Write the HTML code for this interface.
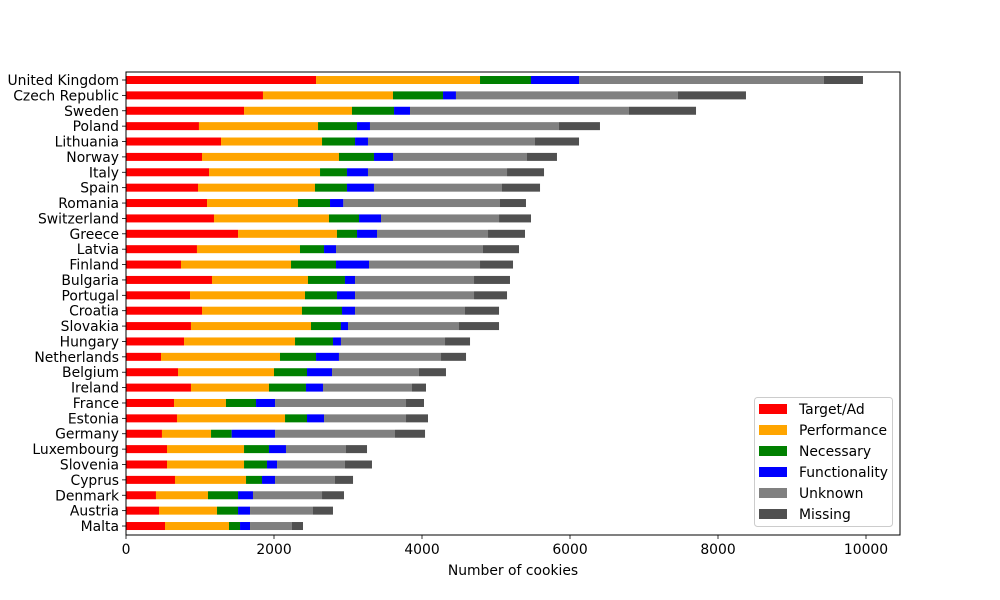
<!DOCTYPE html>
<html><head><meta charset="utf-8"><style>
html,body{margin:0;padding:0;background:#fff;}
svg{display:block;font-family:"DejaVu Sans","Liberation Sans",sans-serif;}
</style></head><body>
<svg id="chart" width="1000" height="600" viewBox="0 0 1000 600"></svg>
<script>
const categories = ["United Kingdom","Czech Republic","Sweden","Poland","Lithuania","Norway","Italy","Spain","Romania","Switzerland","Greece","Latvia","Finland","Bulgaria","Portugal","Croatia","Slovakia","Hungary","Netherlands","Belgium","Ireland","France","Estonia","Germany","Luxembourg","Slovenia","Cyprus","Denmark","Austria","Malta"];
const targetAd = [2568,1851,1595,986,1284,1027,1122,973,1095,1189,1514,959,743,1162,865,1027,878,784,473,703,878,649,689,486,554,554,662,405,446,527];
const performance = [2216,1757,1459,1609,1365,1851,1500,1581,1229,1554,1337,1392,1487,1297,1554,1351,1622,1500,1608,1297,1054,702,1460,663,1041,1041,960,703,784,865];
const necessary = [689,676,568,527,446,473,364,432,433,406,271,325,608,500,432,541,405,513,487,446,500,406,297,279,337,310,216,406,284,149];
const functionality = [649,175,216,175,175,257,284,365,180,297,270,162,446,136,244,176,95,108,310,338,230,257,230,586,230,136,176,202,162,135];
const unknown = [3310,3000,2959,2554,2257,1811,1879,1730,2117,1595,1500,1986,1500,1608,1608,1486,1500,1406,1379,1175,1203,1770,1108,1621,811,918,810,933,851,567];
const missing = [527,919,906,554,595,405,500,514,351,432,500,487,446,486,446,460,541,338,338,365,189,243,297,406,284,365,244,297,270,149];
const seriesNames = ["Target/Ad","Performance","Necessary","Functionality","Unknown","Missing"];
const xTicks = [0,2000,4000,6000,8000,10000];

const colors = ["#ff0000","#ffa500","#008000","#0000ff","#808080","#505050"];
const series = [targetAd,performance,necessary,functionality,unknown,missing];
const NS = "http://www.w3.org/2000/svg";
const svg = document.getElementById("chart");
const L=126, R=900, T=72, B=535;
const FS = "13.9";
const xScale = v => L + v*0.074;
const yScale = i => 80 + i*15.38;
const barH = 8;
function mk(tag, attrs, parent){const e=document.createElementNS(NS,tag);for(const k in attrs)e.setAttribute(k,attrs[k]);(parent||svg).appendChild(e);return e;}

const barsG = mk("g",{});


categories.forEach((c,i)=>{
  let acc=0;
  series.forEach((s,j)=>{
    const r = mk("rect",{x:xScale(acc),y:yScale(i)-barH/2,width:xScale(acc+s[i])-xScale(acc),height:barH,fill:colors[j]},barsG);
    
    
    acc+=s[i];
  });
  const tk = mk("line",{x1:L-4,x2:L,y1:yScale(i),y2:yScale(i),stroke:"#000","stroke-width":0.8});
  
  
  const t = mk("text",{x:L-7,y:yScale(i)+5,"text-anchor":"end","font-size":FS,fill:"#000"});
  t.textContent=c;
  
  
});
const frame = mk("rect",{x:L,y:T,width:R-L,height:B-T,fill:"none",stroke:"#000","stroke-width":1});


xTicks.forEach(v=>{
  const tk = mk("line",{x1:xScale(v),x2:xScale(v),y1:B,y2:B+4,stroke:"#000","stroke-width":0.8});
  
  
  const t = mk("text",{x:xScale(v),y:B+19,"text-anchor":"middle","font-size":FS,fill:"#000"});
  t.textContent=v;
  
  
});
const xl = mk("text",{x:(L+R)/2,y:575,"text-anchor":"middle","font-size":FS,fill:"#000"});
xl.textContent="Number of cookies";



const lg = mk("g",{});


mk("rect",{x:754.5,y:397.5,width:138,height:129,rx:3,fill:"#fff","fill-opacity":0.8,stroke:"#ccc"},lg);
seriesNames.forEach((n,j)=>{
  const cy = 409 + j*21;
  const e = mk("g",{},lg);
  
  
  mk("rect",{x:759,y:cy-5,width:28,height:10,fill:colors[j]},e);
  const t = mk("text",{x:799,y:cy+5,"font-size":FS,fill:"#000"},e);
  t.textContent=n;
});
</script>
</body></html>
